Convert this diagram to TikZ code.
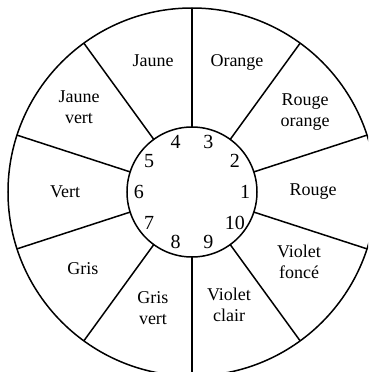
\documentclass[tikz,border=0pt]{standalone}
\usepackage{fontspec}
\setmainfont{Liberation Serif}

\begin{document}
\begin{tikzpicture}[x=1pt, y=1pt,
    wheel/.style={line width=1.5pt},
    colname/.style={font=\fontsize{18}{21.6}\selectfont, align=center, inner sep=0pt},
    num/.style={font=\fontsize{20}{24}\selectfont, inner sep=0pt}]
  % Frame
  \useasboundingbox (-192,-180) rectangle (176,192);
  \fill[white] (-192,-180) rectangle (176,192);
  \clip (-192,-180) rectangle (176,192);

  % Wheel
  \coordinate (O) at (0,0);
  \draw[wheel] (O) circle (184);
  \draw[wheel] (O) circle (65);
  \foreach \a in {18,54,...,342}
    \draw[wheel] (\a:65) -- (\a:184);

  % Numbers
  \foreach \k in {1,...,10}
    \node[num] (n\k) at ({(\k-1)*36}:53) {\k};

  % Colour names
  \node[colname] (rouge)        at (121,0)     {Rouge};
  \node[colname] (rougeorange)  at (113,80)    {Rouge\\orange};
  \node[colname] (orange)       at (45,130)    {Orange};
  \node[colname] (jaune)        at (-39,131)   {Jaune};
  \node[colname] (jaunevert)    at (-113,85)   {Jaune\\vert};
  \node[colname] (vert)         at (-127,0)    {Vert};
  \node[colname] (gris)         at (-109,-77)  {Gris};
  \node[colname] (grisvert)     at (-39,-116)  {Gris\\vert};
  \node[colname] (violetclair)  at (37,-113)   {Violet\\clair};
  \node[colname] (violetfonce)  at (107,-70)   {Violet\\foncé};
\end{tikzpicture}
\end{document}
